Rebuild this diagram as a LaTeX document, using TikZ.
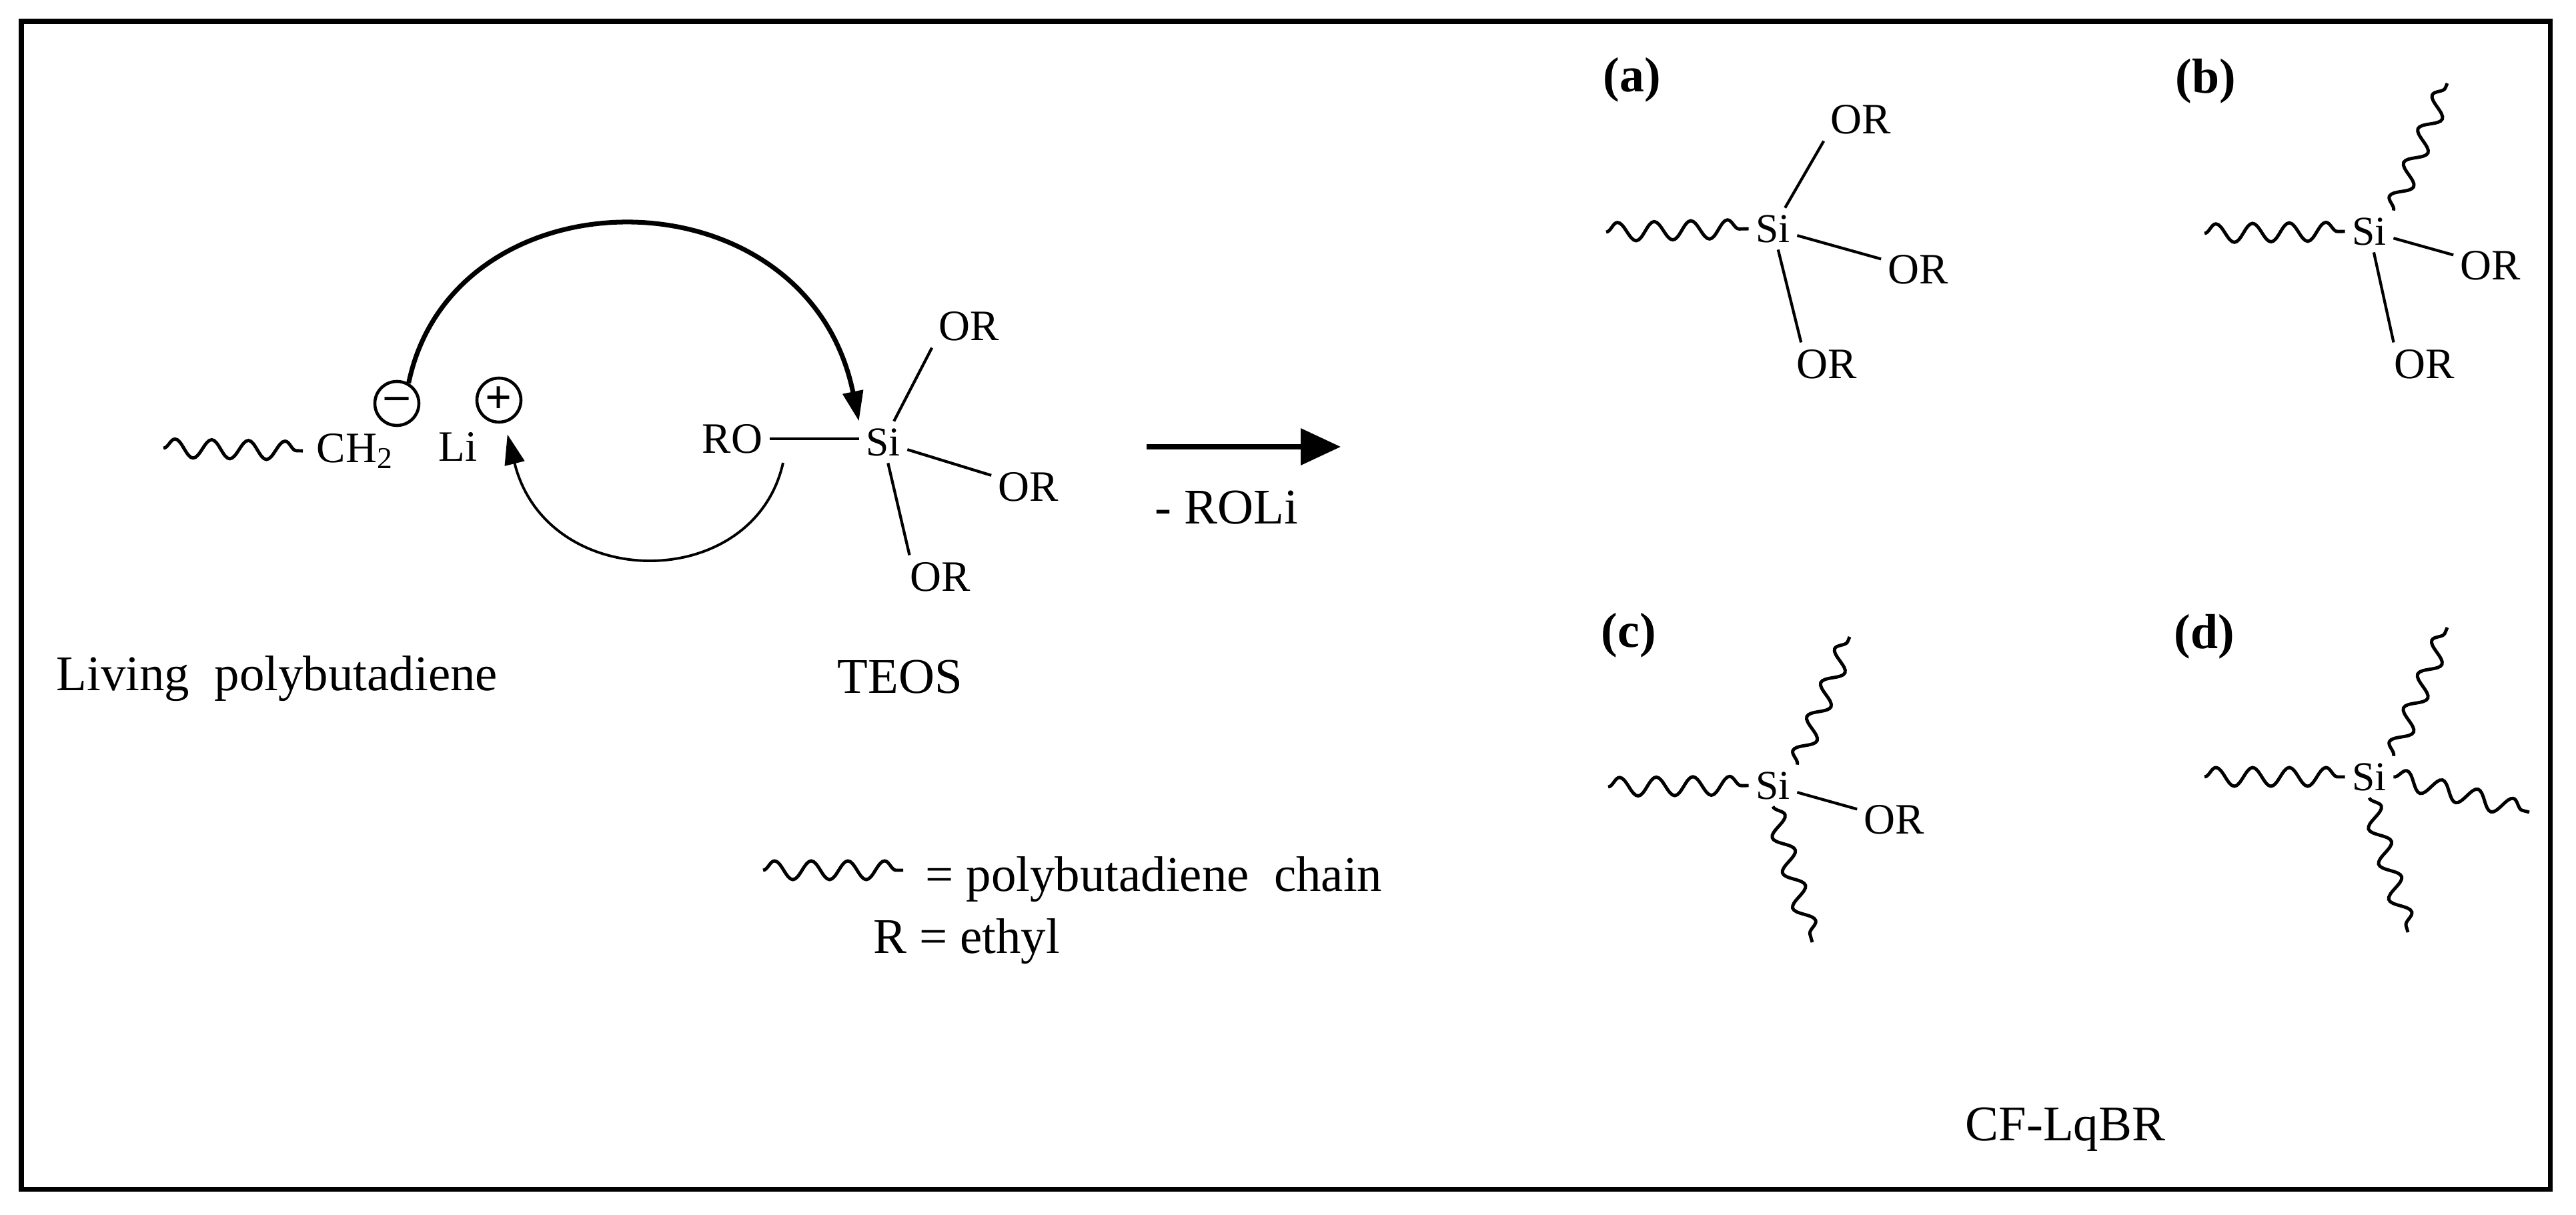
\documentclass[tikz,border=0pt]{standalone}
\usepackage{fontspec}
\setmainfont{Liberation Serif}
\usepackage{tikz}
\usetikzlibrary{positioning,arrows.meta,decorations.pathmorphing}

\tikzset{
    chem/.style={font=\fontsize{18.5}{22}\selectfont, inner sep=0.1cm},
    silicon/.style={font=\fontsize{17.5}{21}\selectfont, inner sep=0.1cm},
    note/.style={font=\fontsize{21.3}{25}\selectfont, inner sep=0, anchor=base west},
    tag/.style={font=\fontsize{21}{25}\selectfont\bfseries, inner sep=0, anchor=base west},
    charge/.style={circle, draw=black, line width=1.3pt, inner sep=0, minimum size=0.66cm, font=\fontsize{20}{20}\selectfont\bfseries},
    bond/.style={line width=1.2pt},
    chain/.style={line width=1.4pt, decorate, decoration={snake, segment length=0.55cm, amplitude=0.14cm}}
}

\begin{document}
\begin{tikzpicture}[on grid]
    \useasboundingbox (0,0) rectangle (38.62,-18.22);
    \draw [line width=2pt] (0.32,-0.32) rectangle (38.23,-17.83);

    % Living chain end and its counter ion
    \coordinate (chainT) at (2.45,-6.72);
    \node [chem, anchor=base west, inner xsep=0.2cm] (ch2) at (4.54,-6.93) {CH\textsubscript{2}};
    \node [chem, anchor=base west] (li) at (6.47,-6.91) {Li};
    \node [charge] (minus) at (5.95,-6.05) {--};
    \node [charge, outer sep=0.2cm] (plus) at (7.48,-6.00) {+};
    \draw [chain] (chainT) -- (ch2.west);

    % TEOS - Si in the middle, the rest around it
    \node [silicon] (siT) at (13.24,-6.63) {Si};
    \node [chem, above right=1.74cm and 1.29cm of siT] (orT1) {OR};
    \node [chem, below right=0.67cm and 2.18cm of siT] (orT2) {OR};
    \node [chem, below right=2.02cm and 0.86cm of siT] (orT3) {OR};
    \node [chem, left=2.26cm of siT, yshift=0.05cm] (ro) {RO};
    \coordinate (roTail) at (11.74,-6.94);
    \draw [bond] (ro) -- (ro -| siT.west);
    \draw [bond] (siT) -- (orT1.south west);
    \draw [bond] (siT) -- (orT2);
    \draw [bond] (siT) -- (orT3.145);

    % Curved electron arrows
    \draw [-{Triangle[length=0.45cm,width=0.3cm]}, line width=2pt] (minus.60) .. controls (6.80,-2.50) and (12.10,-2.50) .. (siT.north west);
    \draw [-{Triangle[length=0.45cm,width=0.3cm]}, line width=1.1pt] (roTail) .. controls (11.30,-8.90) and (8.20,-8.90) .. (plus);

    % Labels under the reactants
    \node [note] (living) at (0.84,-10.35) {Living\ \ polybutadiene};
    \node [note] (teos) at (12.55,-10.39) {TEOS};

    % Reaction arrow
    \coordinate (reactFrom) at (17.19,-6.70);
    \coordinate (reactTo) at (20.10,-6.70);
    \draw [-{Triangle[length=0.6cm,width=0.54cm]}, line width=2pt] (reactFrom) -- (reactTo);
    \node [note] (loss) at (17.31,-7.85) {- ROLi};

    % Legend
    \coordinate (keyFrom) at (11.44,-13.05);
    \coordinate (keyTo) at (13.54,-13.05);
    \draw [chain] (keyFrom) -- (keyTo);
    \node [note] (keyChain) at (13.87,-13.36) {= polybutadiene\ \ chain};
    \node [note] (keyEthyl) at (13.09,-14.29) {R = ethyl};

    % Product (a)
    \node [tag] (tagA) at (24.03,-1.38) {(a)};
    \node [silicon] (siA) at (26.58,-3.43) {Si};
    \node [chem, above right=1.64cm and 1.32cm of siA] (orA1) {OR};
    \node [chem, below right=0.61cm and 2.18cm of siA] (orA2) {OR};
    \node [chem, below right=2.03cm and 0.81cm of siA] (orA3) {OR};
    \coordinate (chainA) at (24.08,-3.48);
    \draw [chain] (chainA) -- (siA.west);
    \draw [bond] (siA) -- (orA1.south west);
    \draw [bond] (siA) -- (orA2);
    \draw [bond] (siA) -- (orA3.140);

    % Product (b)
    \node [tag] (tagB) at (32.61,-1.40) {(b)};
    \node [silicon] (siB) at (35.52,-3.47) {Si};
    \node [chem, below right=0.51cm and 1.82cm of siB] (orB2) {OR};
    \node [chem, below right=1.99cm and 0.83cm of siB] (orB3) {OR};
    \coordinate (chainB) at (33.05,-3.50);
    \coordinate (armB) at (36.69,-1.25);
    \draw [chain] (chainB) -- (siB.west);
    \draw [chain] (siB.north east) -- (armB);
    \draw [bond] (siB) -- (orB2);
    \draw [bond] (siB) -- (orB3.145);

    % Product (c)
    \node [tag] (tagC) at (24.00,-9.70) {(c)};
    \node [silicon] (siC) at (26.58,-11.78) {Si};
    \node [chem, below right=0.51cm and 1.82cm of siC] (orC2) {OR};
    \coordinate (chainC) at (24.11,-11.80);
    \coordinate (armC1) at (27.73,-9.55);
    \coordinate (armC2) at (27.17,-14.13);
    \draw [chain] (chainC) -- (siC.west);
    \draw [chain] (siC.north east) -- (armC1);
    \draw [chain] (siC.south) -- (armC2);
    \draw [bond] (siC) -- (orC2);

    % Product (d)
    \node [tag] (tagD) at (32.59,-9.72) {(d)};
    \node [silicon] (siD) at (35.52,-11.65) {Si};
    \coordinate (chainD) at (33.05,-11.65);
    \coordinate (armD1) at (36.69,-9.41);
    \coordinate (armD2) at (37.92,-12.18);
    \coordinate (armD3) at (36.10,-13.98);
    \draw [chain] (chainD) -- (siD.west);
    \draw [chain] (siD.north east) -- (armD1);
    \draw [chain] (siD.east) -- (armD2);
    \draw [chain] (siD.south) -- (armD3);

    \node [note] (product) at (29.46,-17.10) {CF-LqBR};
\end{tikzpicture}
\end{document}
